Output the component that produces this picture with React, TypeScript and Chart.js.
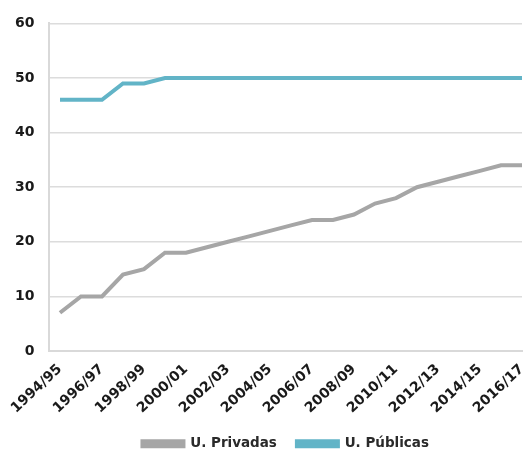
import React, { useEffect, useRef } from "react";
import { Chart, registerables } from "chart.js";

Chart.register(...registerables);

const years = [
  "1994/95", "1995/96", "1996/97", "1997/98", "1998/99", "1999/00", "2000/01",
  "2001/02", "2002/03", "2003/04", "2004/05", "2005/06", "2006/07", "2007/08",
  "2008/09", "2009/10", "2010/11", "2011/12", "2012/13", "2013/14", "2014/15",
  "2015/16", "2016/17",
];
const privadas = [7, 10, 10, 14, 15, 18, 18, 19, 20, 21, 22, 23, 24, 24, 25, 27, 28, 30, 31, 32, 33, 34, 34];
const publicas = [46, 46, 46, 49, 49, 50, 50, 50, 50, 50, 50, 50, 50, 50, 50, 50, 50, 50, 50, 50, 50, 50, 50];
const seriesNames = ["U. Privadas", "U. Públicas"];
const colors = ["#a6a6a6", "#62b4c7"];

export default function App() {
  const ref = useRef<HTMLCanvasElement | null>(null);
  useEffect(() => {
    if (!ref.current) return;
    const font = "'DejaVu Sans', sans-serif";
    const chart = new Chart(ref.current, {
      type: "line",
      data: {
        datasets: [
          {
            label: seriesNames[0],
            data: privadas.map((v, i) => ({ x: i, y: v })),
            borderColor: colors[0],
            backgroundColor: colors[0],
            borderWidth: 4,
            pointRadius: 0,
            tension: 0,
          },
          {
            label: seriesNames[1],
            data: publicas.map((v, i) => ({ x: i, y: v })),
            borderColor: colors[1],
            backgroundColor: colors[1],
            borderWidth: 4,
            pointRadius: 0,
            tension: 0,
          },
        ],
      },
      options: {
        animation: false,
        responsive: false,
        maintainAspectRatio: false,
        layout: { padding: { top: 10, right: 3, left: 0, bottom: -9.5 } },
        plugins: {
          tooltip: { enabled: false },
          legend: {
            position: "bottom",
            fullSize: false,
            labels: {
              boxWidth: 41,
              boxHeight: 5,
              padding: 20,
              color: "#2a2a2a",
              font: { family: font, size: 13.5, weight: "bold" },
            },
          },
        },
        scales: {
          x: {
            type: "linear",
            min: -0.5,
            max: years.length - 1,
            afterBuildTicks: (scale: any) => {
              scale.ticks = years
                .map((_, i) => ({ value: i }))
                .filter((t) => t.value % 2 === 0);
            },
            afterFit: (scale: any) => {
              scale.paddingLeft = 0;
              scale.paddingRight = 0;
              scale.height = 66;
            },
            grid: { display: false, drawTicks: false },
            border: { display: true, color: "#d9d9d9", width: 2 },
            ticks: {
              autoSkip: false,
              minRotation: 43,
              maxRotation: 43,
              padding: 10,
              color: "#1a1a1a",
              font: { family: font, size: 14, weight: "bold" },
              callback: (v: any) => years[Number(v)] ?? "",
            },
          },
          y: {
            min: 0,
            max: 60,
            ticks: {
              stepSize: 10,
              padding: 15,
              color: "#1a1a1a",
              font: { family: font, size: 14, weight: "bold" },
            },
            grid: { color: "#dcdcdc", lineWidth: 1.5, drawTicks: false },
            border: { display: true, color: "#d9d9d9", width: 2 },
          },
        },
      },
    });
    return () => chart.destroy();
  }, []);
  return (
    <div style={{ position: "fixed", left: 0, top: 0, width: 525, height: 451, background: "#fff" }}>
      <canvas ref={ref} width={525} height={451} style={{ width: 525, height: 451 }} />
    </div>
  );
}
